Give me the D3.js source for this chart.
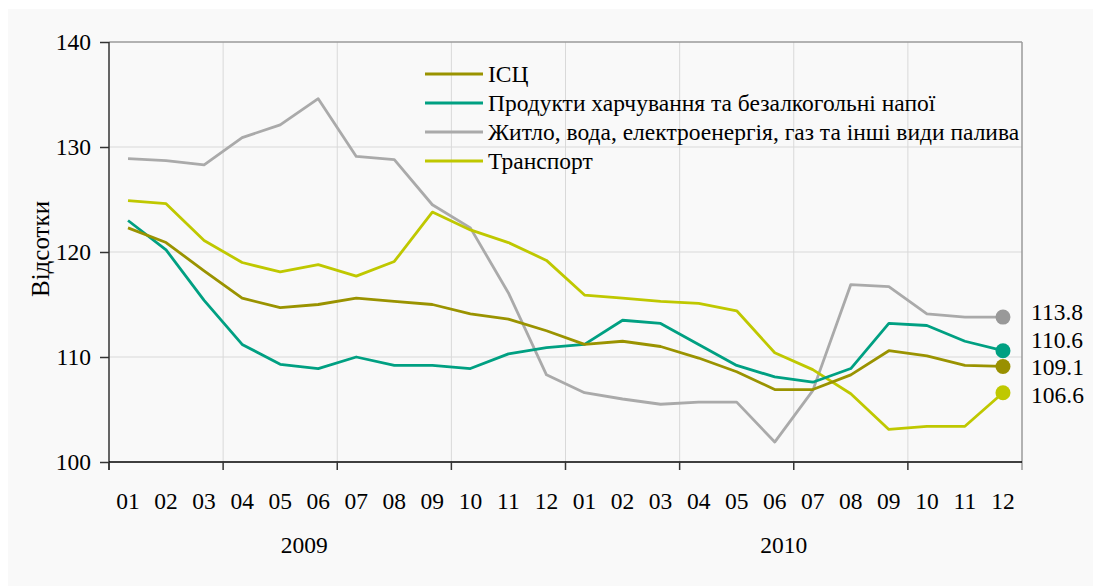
<!DOCTYPE html>
<html>
<head>
<meta charset="utf-8">
<script src="https://cdn.jsdelivr.net/npm/d3@7"></script>
<style>
  body { margin: 0; background: #ffffff; }
  svg { display: block; font-family: "Liberation Serif", "Times New Roman", serif; }
  .tick-label { font-family: "Liberation Serif", serif; font-size: 23.5px; fill: #000; }
  .legend-label { font-family: "Liberation Serif", serif; font-size: 23.5px; fill: #000; }
  .grid line { stroke: #d9d9d9; stroke-width: 1; }
</style>
</head>
<body>
<svg id="main-chart"></svg>
<script>
// Month labels and years
var months = ["01", "02", "03", "04", "05", "06", "07", "08", "09", "10", "11", "12"];
var years = ["2009", "2010"];
var yTicks = [100, 110, 120, 130, 140];

// Series values (per cent), Jan 2009 .. Dec 2010
var iscValues = [122.3, 120.9, 118.2, 115.6, 114.7, 115.0, 115.6, 115.3, 115.0, 114.1, 113.6, 112.5,
                 111.2, 111.5, 111.0, 109.9, 108.6, 106.9, 106.9, 108.3, 110.6, 110.1, 109.2, 109.1];
var foodValues = [123.0, 120.2, 115.4, 111.2, 109.3, 108.9, 110.0, 109.2, 109.2, 108.9, 110.3, 110.9,
                  111.2, 113.5, 113.2, 111.2, 109.2, 108.1, 107.6, 108.9, 113.2, 113.0, 111.5, 110.6];
var housingValues = [128.9, 128.7, 128.3, 130.9, 132.1, 134.6, 129.1, 128.8, 124.5, 122.3, 116.1, 108.3,
                     106.6, 106.0, 105.5, 105.7, 105.7, 101.9, 106.8, 116.9, 116.7, 114.1, 113.8, 113.8];
var transportValues = [124.9, 124.6, 121.1, 119.0, 118.1, 118.8, 117.7, 119.1, 123.8, 122.1, 120.9, 119.2,
                       115.9, 115.6, 115.3, 115.1, 114.4, 110.4, 108.8, 106.5, 103.1, 103.4, 103.4, 106.6];

var seriesNames = [
  "ІСЦ",
  "Продукти харчування та безалкогольні напої",
  "Житло, вода, електроенергія, газ та інші види палива",
  "Транспорт"
];
var yAxisLabel = "Відсотки";

var COLORS = {
  isc: "#9a9300",
  food: "#00a082",
  housing: "#aaaaaa",
  transport: "#bfc800"
};
var DOT_COLORS = {
  isc: "#999000",
  food: "#00a082",
  housing: "#999999",
  transport: "#bfc800"
};

var series = [
  { key: "isc", name: seriesNames[0], values: iscValues },
  { key: "food", name: seriesNames[1], values: foodValues },
  { key: "housing", name: seriesNames[2], values: housingValues },
  { key: "transport", name: seriesNames[3], values: transportValues }
];

// Keys for every month
var keys = [];
years.forEach(function (y) {
  months.forEach(function (m) { keys.push(y + "-" + m); });
});

var width = 1093;
var height = 588;
var margins = { top: 42, right: 71, bottom: 126, left: 109 };
var chartWidth = width - margins.left - margins.right;
var chartHeight = height - margins.top - margins.bottom;

var svg = d3.select("#main-chart")
  .attr("width", width)
  .attr("height", height);

// Light panel behind everything
svg.append("rect")
  .attr("x", 8)
  .attr("y", 9)
  .attr("width", width - 8)
  .attr("height", height - 11)
  .attr("fill", "#f9f9f9");

var chartElement = svg.append("g")
  .attr("transform", "translate(" + margins.left + "," + margins.top + ")");

// Scales
var xScale = d3.scaleBand()
  .domain(keys)
  .range([0, chartWidth])
  .padding(0);

var yScale = d3.scaleLinear()
  .domain([100, 140])
  .range([chartHeight, 0]);

var xMid = function (k) { return xScale(k) + xScale.bandwidth() / 2; };

// Grid: horizontal
chartElement.append("g")
  .attr("class", "grid")
  .selectAll("line")
  .data(yTicks.filter(function (d) { return d > 100 && d < 140; }))
  .enter()
  .append("line")
  .attr("x1", 0)
  .attr("x2", chartWidth)
  .attr("y1", function (d) { return yScale(d); })
  .attr("y2", function (d) { return yScale(d); });

// Grid: vertical every quarter
var quarterKeys = keys.filter(function (k, i) { return i % 3 === 0 && i > 0; });
chartElement.append("g")
  .attr("class", "grid")
  .selectAll("line")
  .data(quarterKeys)
  .enter()
  .append("line")
  .attr("x1", function (d) { return xScale(d); })
  .attr("x2", function (d) { return xScale(d); })
  .attr("y1", 0)
  .attr("y2", chartHeight);

// Top and right borders
chartElement.append("line")
  .attr("x1", 0).attr("x2", chartWidth)
  .attr("y1", 0).attr("y2", 0)
  .attr("stroke", "#9a9a9a").attr("stroke-width", 1.5);
chartElement.append("line")
  .attr("x1", chartWidth).attr("x2", chartWidth)
  .attr("y1", 0).attr("y2", chartHeight + 8)
  .attr("stroke", "#9a9a9a").attr("stroke-width", 1.5);

// Y axis
var yAxis = d3.axisLeft(yScale)
  .tickValues(yTicks)
  .tickSize(9)
  .tickPadding(9)
  .tickFormat(d3.format("d"));

var yAxisG = chartElement.append("g")
  .attr("class", "y axis")
  .call(yAxis)
  .attr("font-family", null)
  .attr("font-size", null);
yAxisG.select(".domain").remove();
yAxisG.selectAll(".tick line").attr("stroke", "#333").attr("stroke-width", 1.5);
yAxisG.selectAll("text").attr("class", "tick-label");
chartElement.append("line")
  .attr("x1", 0).attr("x2", 0)
  .attr("y1", 0).attr("y2", chartHeight + 8)
  .attr("stroke", "#333").attr("stroke-width", 1.5);

// X axis (tick marks at quarter boundaries)
var tickEdges = keys.filter(function (k, i) { return i % 3 === 0; });
chartElement.append("line")
  .attr("x1", 0).attr("x2", chartWidth)
  .attr("y1", chartHeight).attr("y2", chartHeight)
  .attr("stroke", "#000").attr("stroke-width", 1.5);
chartElement.append("g")
  .selectAll("line")
  .data(tickEdges)
  .enter()
  .append("line")
  .attr("x1", function (d) { return xScale(d); })
  .attr("x2", function (d) { return xScale(d); })
  .attr("y1", chartHeight)
  .attr("y2", chartHeight + 8)
  .attr("stroke", "#333")
  .attr("stroke-width", 1.5);

// Month labels
chartElement.append("g")
  .selectAll("text")
  .data(keys)
  .enter()
  .append("text")
  .attr("class", "tick-label")
  .attr("x", function (d) { return xMid(d); })
  .attr("y", chartHeight + 39)
  .attr("text-anchor", "middle")
  .attr("dominant-baseline", "central")
  .text(function (d) { return d.split("-")[1]; });

// Year labels (offset in bands from the year's first month)
var yearOffset = { "2009": 5.13, "2010": 5.74 };
chartElement.append("g")
  .selectAll("text")
  .data(years)
  .enter()
  .append("text")
  .attr("class", "tick-label")
  .attr("x", function (d) {
    return xScale(d + "-01") + xScale.bandwidth() * yearOffset[d];
  })
  .attr("y", chartHeight + 83)
  .attr("text-anchor", "middle")
  .attr("dominant-baseline", "central")
  .text(function (d) { return d; });

// Y axis title
svg.append("text")
  .attr("transform", "translate(40," + (margins.top + chartHeight / 2 - 3) + ") rotate(-90)")
  .attr("text-anchor", "middle")
  .attr("dominant-baseline", "central")
  .style("font-size", "25px")
  .text(yAxisLabel);

// Lines
var line = d3.line()
  .x(function (d, i) { return xMid(keys[i]); })
  .y(function (d) { return yScale(d); });

var drawOrder = ["housing", "transport", "food", "isc"];
chartElement.append("g")
  .attr("class", "lines")
  .selectAll("path")
  .data(drawOrder.map(function (k) { return series.find(function (s) { return s.key === k; }); }))
  .enter()
  .append("path")
  .attr("d", function (d) { return line(d.values); })
  .attr("fill", "none")
  .attr("stroke", function (d) { return COLORS[d.key]; })
  .attr("stroke-width", 2.8)
  .attr("stroke-linejoin", "round");

// End dots
var lastKey = keys[keys.length - 1];
chartElement.append("g")
  .selectAll("circle")
  .data(series)
  .enter()
  .append("circle")
  .attr("cx", xMid(lastKey))
  .attr("cy", function (d) { return yScale(d.values[d.values.length - 1]); })
  .attr("r", 7.5)
  .attr("fill", function (d) { return DOT_COLORS[d.key]; });

// End labels, spread so they don't overlap
var ends = series.map(function (s) {
  var v = s.values[s.values.length - 1];
  return { v: v, y: yScale(v) };
}).sort(function (a, b) { return a.y - b.y; });
var labelGap = 27.5;
var meanY = d3.mean(ends, function (d) { return d.y; }) - 3.4;
ends.forEach(function (d, i) {
  d.ly = meanY + (i - (ends.length - 1) / 2) * labelGap;
});

chartElement.append("g")
  .selectAll("text")
  .data(ends)
  .enter()
  .append("text")
  .attr("class", "tick-label")
  .attr("x", chartWidth + 9)
  .attr("y", function (d) { return d.ly; })
  .attr("dominant-baseline", "central")
  .text(function (d) { return d.v.toFixed(1); });

// Legend
var legend = svg.append("g")
  .attr("class", "legend")
  .selectAll("g")
  .data(series)
  .enter()
  .append("g")
  .attr("transform", function (d, i) { return "translate(425," + (74 + i * 29) + ")"; });

legend.append("line")
  .attr("x1", 0)
  .attr("x2", 58)
  .attr("stroke", function (d) { return COLORS[d.key]; })
  .attr("stroke-width", 3);

legend.append("text")
  .attr("class", "legend-label")
  .attr("x", 63)
  .attr("dominant-baseline", "central")
  .text(function (d) { return d.name; });
</script>
</body>
</html>
